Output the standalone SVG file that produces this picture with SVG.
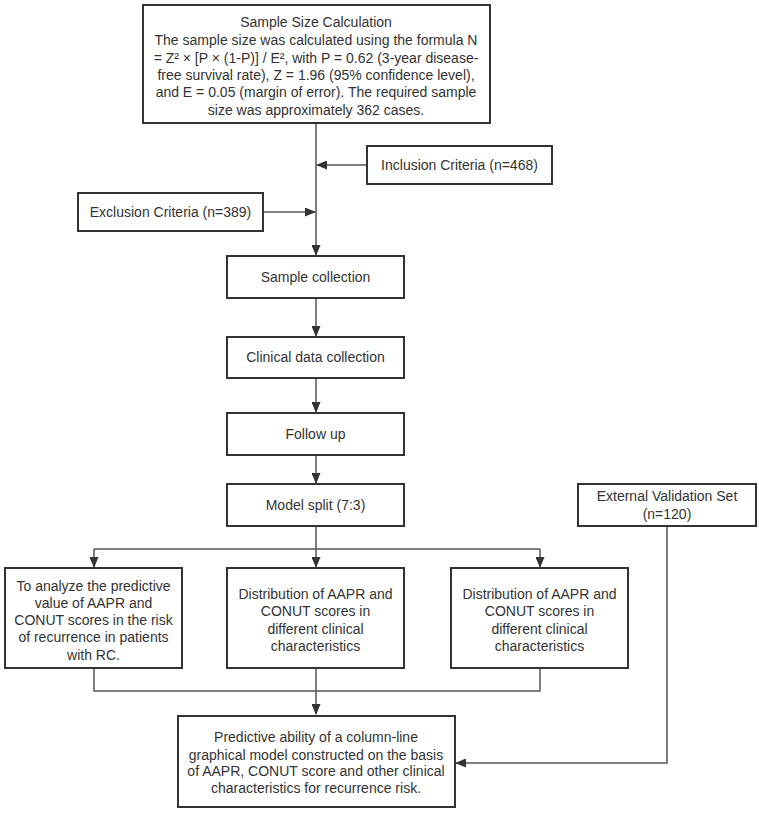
<svg xmlns="http://www.w3.org/2000/svg" width="759" height="813" viewBox="0 0 759 813">
<style>
.box{fill:#fff;stroke:#333;stroke-width:2}
.t{font-family:"Liberation Sans",Arial,sans-serif;font-size:14px;fill:#333;text-anchor:middle}
.c{fill:none;stroke:#555;stroke-width:1.5}
</style>
<defs>
<marker id="ah" markerUnits="userSpaceOnUse" markerWidth="11" markerHeight="9" refX="10" refY="4.5" orient="auto">
<path d="M0,0 L11,4.5 L0,9 z" fill="#333"/>
</marker>
</defs>
<rect width="759" height="813" fill="#fff"/>
<g id="connectors">
<path class="c" d="M316,123 V255" marker-end="url(#ah)"/>
<path class="c" d="M367,165 H317" marker-end="url(#ah)"/>
<path class="c" d="M263,212 H315" marker-end="url(#ah)"/>
<path class="c" d="M316,298 V336" marker-end="url(#ah)"/>
<path class="c" d="M316,378 V412" marker-end="url(#ah)"/>
<path class="c" d="M316,455 V483" marker-end="url(#ah)"/>
<path class="c" d="M316,526 V567" marker-end="url(#ah)"/>
<path class="c" d="M94,549 H540"/>
<path class="c" d="M94,549 V567" marker-end="url(#ah)"/>
<path class="c" d="M540,549 V567" marker-end="url(#ah)"/>
<path class="c" d="M94,668 V691 H540 V668"/>
<path class="c" d="M316,668 V714" marker-end="url(#ah)"/>
<path class="c" d="M667,526 V763 H456" marker-end="url(#ah)"/>
</g>
<g id="n-sample-size">
<rect class="box" x="143" y="5" width="347" height="118"/>
<text class="t" x="316" y="27">Sample Size Calculation</text>
<text class="t" x="316" y="45">The sample size was calculated using the formula N</text>
<text class="t" x="316" y="63">= Z² × [P × (1-P)] / E², with P = 0.62 (3-year disease-</text>
<text class="t" x="316" y="80">free survival rate), Z = 1.96 (95% confidence level),</text>
<text class="t" x="316" y="97">and E = 0.05 (margin of error). The required sample</text>
<text class="t" x="316" y="115">size was approximately 362 cases.</text>
</g>
<g id="n-inclusion">
<rect class="box" x="367" y="146" width="185" height="38"/>
<text class="t" x="459.5" y="170">Inclusion Criteria (n=468)</text>
</g>
<g id="n-exclusion">
<rect class="box" x="78" y="193" width="185" height="38"/>
<text class="t" x="170.5" y="217">Exclusion Criteria (n=389)</text>
</g>
<g id="n-sample-collection">
<rect class="box" x="227" y="256" width="177" height="42"/>
<text class="t" x="315.5" y="282">Sample collection</text>
</g>
<g id="n-clinical">
<rect class="box" x="227" y="337" width="177" height="41"/>
<text class="t" x="315.5" y="362">Clinical data collection</text>
</g>
<g id="n-follow">
<rect class="box" x="227" y="413" width="177" height="42"/>
<text class="t" x="315.5" y="439">Follow up</text>
</g>
<g id="n-split">
<rect class="box" x="227" y="484" width="177" height="42"/>
<text class="t" x="315.5" y="510">Model split (7:3)</text>
</g>
<g id="n-external">
<rect class="box" x="578" y="484" width="178" height="42"/>
<text class="t" x="667" y="501">External Validation Set</text>
<text class="t" x="667" y="519">(n=120)</text>
</g>
<g id="n-analyze">
<rect class="box" x="5" y="568" width="177" height="100"/>
<text class="t" x="93.5" y="591">To analyze the predictive</text>
<text class="t" x="93.5" y="608">value of AAPR and</text>
<text class="t" x="93.5" y="625">CONUT scores in the risk</text>
<text class="t" x="93.5" y="642">of recurrence in patients</text>
<text class="t" x="93.5" y="660">with RC.</text>
</g>
<g id="n-dist1">
<rect class="box" x="227" y="568" width="177" height="100"/>
<text class="t" x="315.5" y="599">Distribution of AAPR and</text>
<text class="t" x="315.5" y="616">CONUT scores in</text>
<text class="t" x="315.5" y="634">different clinical</text>
<text class="t" x="315.5" y="651">characteristics</text>
</g>
<g id="n-dist2">
<rect class="box" x="451" y="568" width="177" height="100"/>
<text class="t" x="539.5" y="599">Distribution of AAPR and</text>
<text class="t" x="539.5" y="616">CONUT scores in</text>
<text class="t" x="539.5" y="634">different clinical</text>
<text class="t" x="539.5" y="651">characteristics</text>
</g>
<g id="n-predictive">
<rect class="box" x="178" y="716" width="277" height="91"/>
<text class="t" x="316" y="742">Predictive ability of a column-line</text>
<text class="t" x="316" y="760">graphical model constructed on the basis</text>
<text class="t" x="316" y="776">of AAPR, CONUT score and other clinical</text>
<text class="t" x="316" y="793">characteristics for recurrence risk.</text>
</g>
</svg>
